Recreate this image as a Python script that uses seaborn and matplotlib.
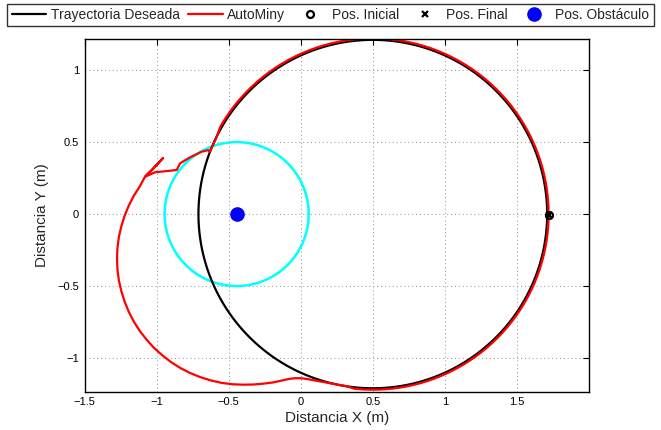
import numpy as np
import pandas as pd
import matplotlib
matplotlib.use("Agg")
import matplotlib.pyplot as plt
import seaborn as sns
from matplotlib.lines import Line2D

# trayectoria deseada: circulo
circ_cx, circ_cy, circ_r = 0.5, 0.0, 1.21
# zona del obstaculo
obs_x, obs_y, obs_r = -0.445, 0.0, 0.5

pos_ini = (1.725, -0.005)
pos_fin = (1.725, -0.005)

# AutoMiny sigue el circulo (radio un poco mayor) en dos tramos (grados)
red_r = 1.22
arc_a = (0, 150)
arc_b = (264, 360)

# tramo de evasion alrededor del obstaculo (x, y)
evade_x = [-0.59, -0.631, -0.642, -0.688, -0.77, -0.838, -0.861,
           -1.012, -1.081, -1.02, -0.956, -1.02, -1.081,
           -1.117, -1.158, -1.193, -1.222, -1.245, -1.262, -1.272, -1.275,
           -1.272, -1.262, -1.245, -1.222, -1.193, -1.158, -1.117, -1.070,
           -1.019, -0.962, -0.902, -0.838, -0.770, -0.699, -0.626, -0.552,
           -0.476, -0.40, -0.33, -0.26, -0.19, -0.13, -0.08, -0.04, 0.0,
           0.04, 0.083, 0.14, 0.20, 0.26, 0.317, 0.372]
evade_y = [0.52, 0.432, 0.444, 0.433, 0.393, 0.352, 0.306,
           0.290, 0.259, 0.32, 0.389, 0.32, 0.259,
           0.192, 0.128, 0.060, -0.011, -0.084, -0.158, -0.234, -0.310,
           -0.386, -0.462, -0.536, -0.609, -0.680, -0.748, -0.812, -0.872,
           -0.929, -0.980, -1.027, -1.068, -1.103, -1.132, -1.155, -1.172,
           -1.182, -1.185, -1.184, -1.178, -1.169, -1.156, -1.145, -1.140, -1.140,
           -1.145, -1.153, -1.164, -1.175, -1.186, -1.196, -1.213]

xticks = [-1.5, -1, -0.5, 0, 0.5, 1, 1.5]
yticks = [-1, -0.5, 0, 0.5, 1]

sns.set_style("white")
plt.rcParams['font.family'] = ['Liberation Sans', 'DejaVu Sans']

fig = plt.figure(figsize=(6.61, 4.30), dpi=100)
ax = fig.add_axes([0.128, 0.089, 0.763, 0.82])

t = np.linspace(0, 2 * np.pi, 400)
des = pd.DataFrame({"x": circ_cx + circ_r * np.cos(t), "y": circ_cy + circ_r * np.sin(t)})
obs = pd.DataFrame({"x": obs_x + obs_r * np.cos(t), "y": obs_y + obs_r * np.sin(t)})

ta = np.deg2rad(np.linspace(arc_a[0], arc_a[1], 120))
tb = np.deg2rad(np.linspace(arc_b[0], arc_b[1], 80))
rx = list(circ_cx + red_r * np.cos(ta)) + evade_x + list(circ_cx + red_r * np.cos(tb))
ry = list(circ_cy + red_r * np.sin(ta)) + evade_y + list(circ_cy + red_r * np.sin(tb))
red = pd.DataFrame({"x": rx, "y": ry})

sns.lineplot(data=obs, x="x", y="y", sort=False, estimator=None, color=(0, 1, 1), lw=1.8, ax=ax)
sns.lineplot(data=des, x="x", y="y", sort=False, estimator=None, color="black", lw=1.6, ax=ax)
sns.lineplot(data=red, x="x", y="y", sort=False, estimator=None, color="red", lw=1.6, ax=ax)

ax.plot(obs_x, obs_y, "o", color=(0, 0, 1), ms=9.5)
ax.plot(pos_fin[0], pos_fin[1], "x", color="black", ms=4, mew=1.6)
ax.plot(pos_ini[0], pos_ini[1], "o", color="black", mfc="none", ms=5, mew=1.6)

ax.set_xlim(-1.5, 2.0)
ax.set_ylim(-1.234, 1.215)
ax.set_xticks(xticks)
ax.set_xticklabels(["\u22121.5", "\u22121", "\u22120.5", "0", "0.5", "1", "1.5"])
ax.set_yticks(yticks)
ax.set_yticklabels(["\u22121", "\u22120.5", "0", "0.5", "1"])
ax.tick_params(direction="in", length=4, width=0.8, labelsize=8, top=True, right=True,
               colors="black", pad=4)
ax.grid(True, linestyle=(0, (1, 3)), color="#909090", lw=0.7)
for s in ax.spines.values():
    s.set_color("black")
    s.set_linewidth(1.0)
ax.set_xlabel("Distancia X (m)", fontsize=11, labelpad=3)
ax.set_ylabel("Distancia Y (m)", fontsize=11, labelpad=6)

handles = [
    Line2D([], [], color="black", lw=1.6),
    Line2D([], [], color="red", lw=1.6),
    Line2D([], [], ls="none", marker="o", color="black", mfc="none", ms=5, mew=1.6),
    Line2D([], [], ls="none", marker="x", color="black", ms=4, mew=1.6),
    Line2D([], [], ls="none", marker="o", color=(0, 0, 1), ms=9.5),
]
labels = ["Trayectoria Deseada", "AutoMiny", "Pos. Inicial", "Pos. Final", "Pos. Obstáculo"]
leg = fig.legend(handles, labels, loc="upper center", ncol=5,
                 bbox_to_anchor=(0.5, 1 - 4 / 430),
                 fontsize=10, frameon=True, fancybox=False, edgecolor="black",
                 handlelength=2.5, handletextpad=0.3, columnspacing=0.6,
                 borderpad=0.3, borderaxespad=0)
leg.get_frame().set_linewidth(1.0)

fig.savefig("out.png", dpi=100)
